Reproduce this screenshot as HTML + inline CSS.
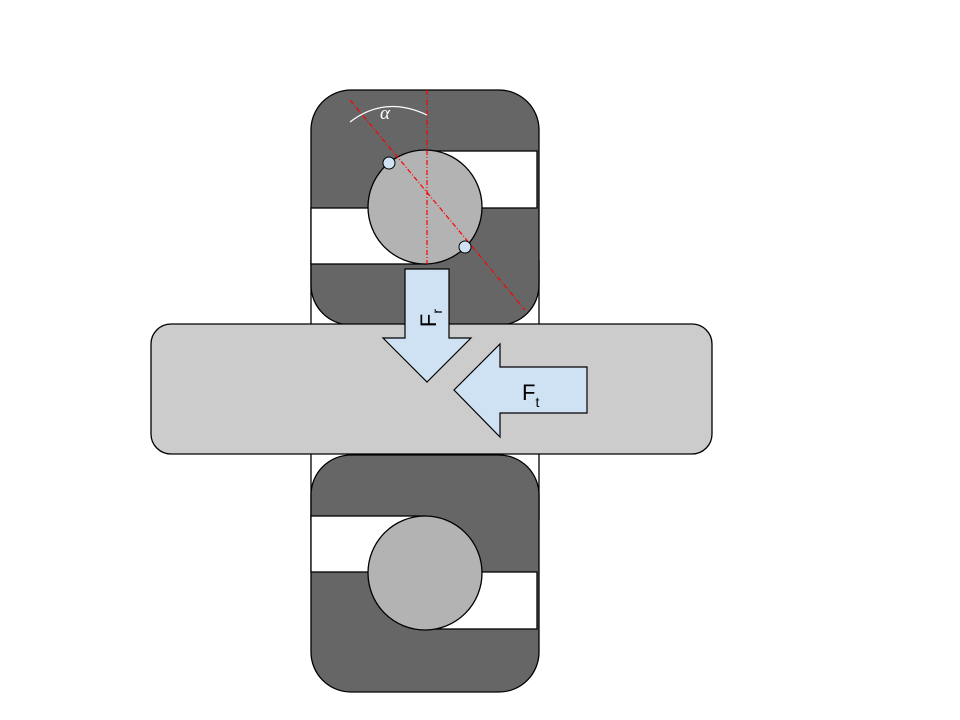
<!DOCTYPE html>
<html><head><meta charset="utf-8"><style>html,body{margin:0;padding:0;background:#fff}svg{display:block}</style></head>
<body>
<svg width="960" height="720" viewBox="0 0 960 720" xmlns="http://www.w3.org/2000/svg" font-family="Liberation Sans, sans-serif">
<!-- top bearing -->
<line x1="311" y1="260" x2="311" y2="325" stroke="#000" stroke-width="1.3"/>
<line x1="539" y1="260" x2="539" y2="325" stroke="#000" stroke-width="1.3"/>
<rect x="311" y="90" width="228" height="235" rx="40" fill="#666" stroke="#000" stroke-width="1.3"/>
<rect x="425" y="151" width="112" height="57" fill="#fff" stroke="#000" stroke-width="1.3"/>
<rect x="311" y="208" width="114" height="56" fill="#fff" stroke="#000" stroke-width="1.3"/>
<circle cx="425" cy="207" r="57" fill="#b3b3b3" stroke="#000" stroke-width="1.3"/>
<line x1="427" y1="90" x2="427" y2="264" stroke="#f00" stroke-width="1.2" stroke-dasharray="5,2,1,2"/>
<line x1="350" y1="100" x2="525" y2="310" stroke="#f00" stroke-width="1.2" stroke-dasharray="5,2,1,2"/>
<circle cx="389" cy="163" r="6" fill="#cfe2f3" stroke="#000"/>
<circle cx="465" cy="247" r="6" fill="#cfe2f3" stroke="#000"/>
<path d="M350 122 Q385 95 427 115" fill="none" stroke="#fff" stroke-width="1.2"/>
<text x="385" y="119" font-family="Liberation Serif, serif" font-style="italic" font-size="19" fill="#fff" text-anchor="middle">α</text>
<!-- bottom bearing -->
<line x1="311" y1="454" x2="311" y2="520" stroke="#000" stroke-width="1.3"/>
<line x1="539" y1="454" x2="539" y2="520" stroke="#000" stroke-width="1.3"/>
<rect x="311" y="455" width="228" height="237" rx="40" fill="#666" stroke="#000" stroke-width="1.3"/>
<rect x="311" y="516" width="114" height="56" fill="#fff" stroke="#000" stroke-width="1.3"/>
<rect x="425" y="572" width="112" height="57" fill="#fff" stroke="#000" stroke-width="1.3"/>
<circle cx="425" cy="573" r="57" fill="#b3b3b3" stroke="#000" stroke-width="1.3"/>
<!-- shaft -->
<rect x="151" y="324" width="561" height="130" rx="20" fill="#ccc" stroke="#000" stroke-width="1.3"/>
<!-- Fr arrow -->
<path d="M405 269 H449 V338 H471 L427 382 L383 338 H405 Z" fill="#cfe2f3" stroke="#000" stroke-width="1.2"/>
<text transform="translate(436,318) rotate(-90)" font-size="22" text-anchor="middle">F<tspan font-size="14" dy="6">r</tspan></text>
<!-- Ft arrow -->
<path d="M587 367 V413 H500 V437 L454 390 L500 344 V367 Z" fill="#cfe2f3" stroke="#000" stroke-width="1.2"/>
<text x="522" y="400" font-size="22">F<tspan font-size="14" dy="7">t</tspan></text>
</svg>
</body></html>
